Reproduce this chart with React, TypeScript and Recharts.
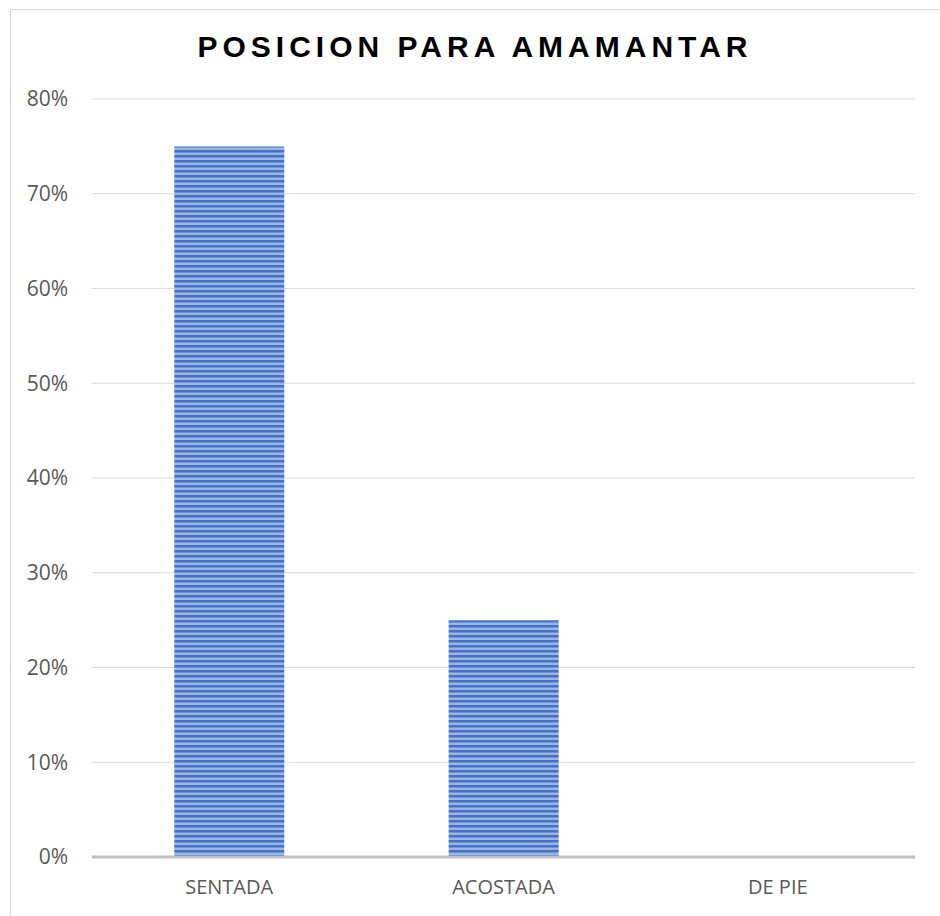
import React from 'react';
import { Bar, BarChart, CartesianGrid, XAxis, YAxis } from 'recharts';

const categories = ['SENTADA', 'ACOSTADA', 'DE PIE'];
const shares = [0.75, 0.25, 0];
const yTicks = [0, 0.1, 0.2, 0.3, 0.4, 0.5, 0.6, 0.7, 0.8];

const data = categories.map((name, i) => ({ name, value: shares[i] }));

const App = () => {
  return (
    <div style={{ position: 'absolute', left: 0, top: 0, width: 940, height: 916, background: '#fff', overflow: 'hidden' }}>
      <svg width={0} height={0} style={{ position: 'absolute' }}>
        <defs>
          <pattern id="stripes" width={10} height={5} patternUnits="userSpaceOnUse">
            <rect x={0} y={0} width={10} height={5} fill="#9DB5E4" />
            <rect x={0} y={0} width={10} height={2} fill="#4472C4" />
            <rect x={0} y={2} width={10} height={1} fill="#6F92D3" />
          </pattern>
        </defs>
      </svg>
      <div
        style={{
          position: 'absolute',
          left: 10,
          top: 9,
          width: 960,
          height: 940,
          border: '1px solid #D9D9D9',
        }}
      />
      <div
        style={{
          position: 'absolute',
          left: 0,
          width: 950,
          top: 30,
          textAlign: 'center',
          fontFamily: '"Liberation Sans", Arial, sans-serif',
          fontWeight: 'bold',
          fontSize: 30,
          letterSpacing: 5,
          color: '#000',
        }}
      >
        POSICION PARA AMAMANTAR
      </div>
      <div style={{ position: 'absolute', left: 0, top: 0 }}>
        <BarChart
          width={940}
          height={916}
          data={data}
          margin={{ top: 99, right: 25, bottom: 29, left: 0 }}
          barCategoryGap="30%"
        >
          <CartesianGrid vertical={false} stroke="#D9D9D9" strokeWidth={1} />
          <XAxis
            dataKey="name"
            height={30}
            axisLine={{ stroke: '#BFBFBF', strokeWidth: 3 }}
            tickLine={false}
            tickSize={0}
            tickMargin={23}
            tick={{ fill: '#595959', fontSize: 20, fontFamily: '"Open Sans", sans-serif' }}
          />
          <YAxis
            width={92}
            domain={[0, 0.8]}
            ticks={yTicks}
            axisLine={false}
            tickLine={false}
            tickSize={0}
            tickMargin={24}
            tickFormatter={(v: number) => `${Math.round(v * 100)}%`}
            tick={{ fill: '#595959', fontSize: 21, fontFamily: '"Open Sans", sans-serif' }}
          />
          <Bar dataKey="value" fill="url(#stripes)" isAnimationActive={false} />
        </BarChart>
      </div>
    </div>
  );
};

export default App;
